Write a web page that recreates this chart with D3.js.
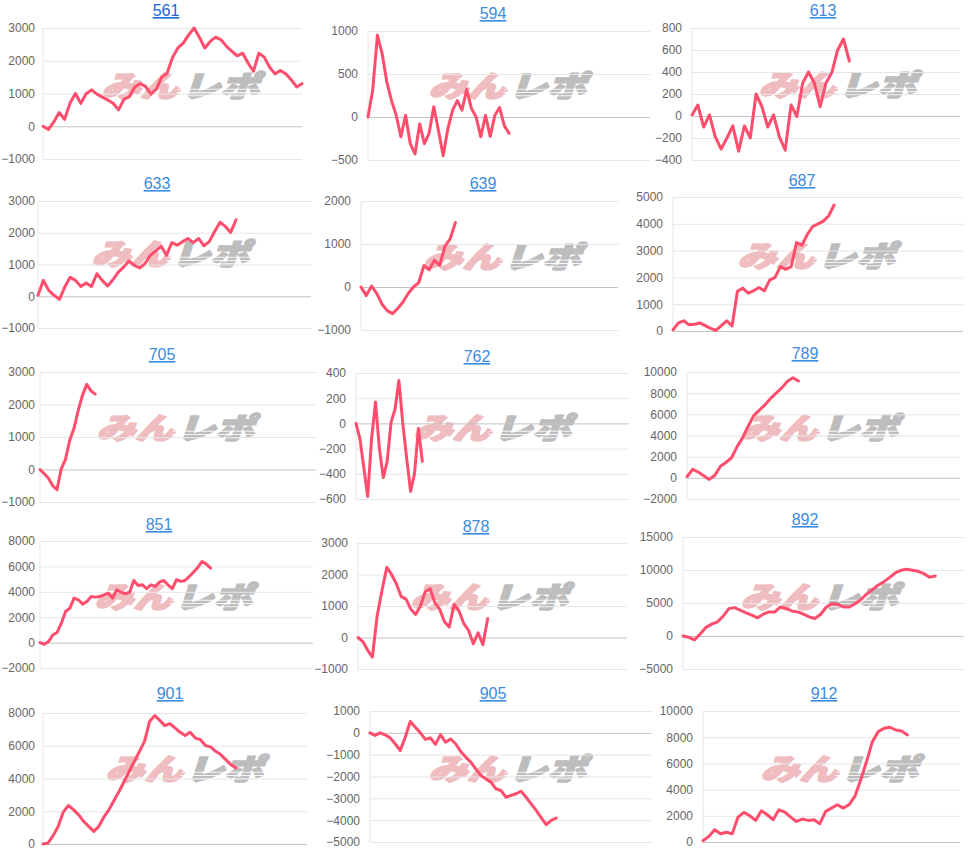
<!DOCTYPE html>
<html>
<head>
<meta charset="utf-8">
<script src="https://cdn.jsdelivr.net/npm/d3@7"></script>
<style>
  body { margin: 0; background: #fff; }
  svg { display: block; }
</style>
</head>
<body>
<div id="vis"></div>
<script>
// chart titles (machine numbers)
const titles = ["561","594","613","633","639","687","705","762","789","851","878","892","901","905","912"];

// number of x slots on each chart (data may stop before the end)
const slots = [49, 61, 47, 52, 50, 55, 66, 71, 50, 65, 57, 50, 53, 57, 45];

// y axis [min, max, step]
const yRanges = [
  [-1000, 3000, 1000], [-500, 1000, 500], [-400, 800, 200],
  [-1000, 3000, 1000], [-1000, 2000, 1000], [0, 5000, 1000],
  [-1000, 3000, 1000], [-600, 400, 200], [-2000, 10000, 2000],
  [-2000, 8000, 2000], [-1000, 3000, 1000], [-5000, 15000, 5000],
  [0, 8000, 2000], [-5000, 1000, 1000], [0, 10000, 2000]
];

// difference values
const s561 = [0,-100,130,420,210,700,1000,700,990,1110,980,890,800,700,500,820,900,1200,1300,1220,980,1130,1500,1620,2100,2390,2540,2790,3000,2710,2390,2590,2720,2640,2440,2290,2150,2230,1930,1680,2230,2110,1800,1600,1700,1600,1420,1200,1300];
const s594 = [0,310,950,740,410,190,20,-230,20,-310,-430,-80,-310,-190,120,-160,-450,-135,80,190,80,320,100,0,-230,20,-225,20,110,-100,-190];
const s613 = [10,100,-100,10,-190,-300,-200,-90,-320,-90,-200,200,85,-100,10,-190,-310,100,-5,300,400,300,85,300,395,600,700,500];
const s633 = [30,500,190,30,-100,290,600,500,310,420,310,710,500,320,520,760,920,1110,970,890,1030,1290,1430,1580,1290,1690,1610,1720,1820,1690,1820,1590,1720,2040,2330,2200,2010,2410];
const s639 = [0,-200,20,-150,-400,-550,-620,-500,-350,-150,0,100,500,400,620,500,950,1120,1500];
const s687 = [40,300,380,230,250,300,200,100,20,200,380,190,1480,1600,1410,1500,1620,1500,1900,2000,2400,2300,2400,3300,3200,3600,3900,4000,4100,4300,4700];
const s705 = [0,-130,-270,-500,-620,20,310,900,1260,1820,2280,2620,2420,2320];
const s762 = [0,-120,-350,-580,-120,170,-200,-430,-300,10,110,340,0,-280,-540,-400,-40,-300];
const s789 = [100,800,550,200,-150,250,1100,1450,1900,2950,3800,4900,5900,6400,6900,7500,8000,8500,9100,9450,9150];
const s851 = [0,-130,80,600,790,1530,2450,2710,3500,3370,3030,3240,3630,3580,3630,3760,3900,3500,4160,3970,3840,3970,4890,4500,4550,4240,4550,4420,4760,4890,4550,4240,4950,4820,4890,5210,5550,5920,6390,6180,5870];
const s878 = [0,-130,-400,-620,700,1500,2230,2000,1700,1300,1220,900,730,1000,1450,1550,1100,900,500,330,1050,850,450,230,-200,150,-230,600];
const s892 = [0,-200,-600,300,1300,1800,2150,3000,4150,4300,3900,3500,3150,2750,3300,3650,3650,4400,4150,3800,3650,3300,2900,2650,3300,4400,4900,4800,4400,4400,4900,5500,6350,7000,7700,8200,8850,9550,9950,10100,9950,9800,9450,8900,9100];
const s901 = [0,60,510,1080,1960,2350,2100,1790,1380,1080,770,1080,1650,2100,2670,3220,3830,4440,5050,5660,6270,7490,7840,7550,7230,7350,7090,6820,6620,6820,6470,6370,6010,5930,5660,5460,5150,4850,4640];
const s905 = [0,-120,0,-90,-230,-500,-810,-200,520,260,0,-300,-230,-530,-80,-430,-280,-500,-850,-1110,-1340,-1650,-1950,-2100,-2260,-2560,-2640,-2950,-2870,-2790,-2680,-2950,-3250,-3550,-3890,-4200,-4010,-3900];
const s912 = [100,430,940,630,740,630,1900,2260,2000,1650,2380,2080,1700,2460,2280,1900,1570,1750,1650,1700,1400,2340,2590,2840,2590,2840,3480,4750,6140,7660,8430,8680,8760,8550,8480,8170];

const series = [s561,s594,s613,s633,s639,s687,s705,s762,s789,s851,s878,s892,s901,s905,s912];

// plot boxes: [left, top, right, bottom], title centre, watermark centre
const boxes = [
  [43,28,302,159], [368,31,650,160], [692,28,960,160],
  [38,201,311,328], [361,201,618,330], [673,197,963,331],
  [40,372,316,502], [356,373,629,499], [687,372,960,499],
  [40,541,313,668], [358,543,627,669], [683,537,964,669],
  [43,713,307,844], [370,711,652,842], [703,711,960,842]
];
const titlePos = [[166,10],[493,13],[823,10],[157,183],[483,183],[802,180],[162,354],[477,356],[805,353],[159,524],[476,526],[805,519],[170,693],[493,693],[824,693]];
const markPos = [[183,86],[510,86],[840,85],[173,254],[505,257],[819,256],[178,428],[495,428],[822,428],[176,597],[492,597],[822,597],[187,769],[510,769],[842,769]];

const width = 971, height = 854;
const svg = d3.select("#vis").append("svg")
  .attr("width", width)
  .attr("height", height);

const font = "'Liberation Sans', Arial, Helvetica, sans-serif";

titles.forEach((t, i) => {
  const [l, top, r, b] = boxes[i];
  const [yMin, yMax, yStep] = yRanges[i];
  const g = svg.append("g");

  // watermark behind the chart
  const [mx, my] = markPos[i];
  const wm = g.append("g").attr("transform", `translate(${mx},${my}) scale(1.08,0.82) skewX(-14)`);
  wm.append("text")
    .attr("x", 0).attr("y", 14)
    .attr("text-anchor", "end")
    .style("font-family", "'Noto Sans CJK JP', sans-serif")
    .style("font-weight", 900)
    .style("font-size", "36px")
    .attr("fill", "#efbcc0")
    .attr("stroke", "#efbcc0")
    .attr("stroke-width", 2.2)
    .attr("stroke-linejoin", "round")
    .text("みん");
  wm.append("text")
    .attr("x", 2).attr("y", 14)
    .attr("text-anchor", "start")
    .style("font-family", "'Noto Sans CJK JP', sans-serif")
    .style("font-weight", 900)
    .style("font-size", "36px")
    .attr("fill", "#bdbdbd")
    .attr("stroke", "#bdbdbd")
    .attr("stroke-width", 2.2)
    .attr("stroke-linejoin", "round")
    .text("レポ");
  [4, 8, 12].forEach(dy => {
    wm.append("line")
      .attr("x1", -4).attr("x2", 82).attr("y1", dy).attr("y2", dy)
      .attr("stroke", "rgba(255,255,255,0.85)").attr("stroke-width", 1.3);
  });

  const x = d3.scaleLinear().domain([0, slots[i] - 1]).range([l, r]);
  const y = d3.scaleLinear().domain([yMin, yMax]).range([b, top]);
  const ticks = d3.range(yMin, yMax + yStep / 2, yStep);

  // grid + labels
  const axis = g.append("g")
    .attr("transform", `translate(${l},0)`)
    .call(d3.axisLeft(y).tickValues(ticks).tickSize(-(r - l))
      .tickPadding(Math.min(10, l - 35)).tickFormat(d3.format("d")));
  axis.select(".domain").remove();
  axis.selectAll(".tick line")
    .attr("stroke", d => d === 0 ? "#c4c4c4" : "#e6e6e6")
    .attr("stroke-width", 1);
  axis.selectAll(".tick text")
    .attr("fill", "#666")
    .style("font-family", font)
    .style("font-size", "12px");

  // vertical axis line
  g.append("line")
    .attr("x1", l).attr("x2", l).attr("y1", top).attr("y2", b)
    .attr("stroke", "#e6e6e6");

  // the line
  const line = d3.line()
    .x((d, k) => x(k))
    .y(d => y(d))
    .curve(d3.curveLinear);
  g.append("path")
    .datum(series[i])
    .attr("d", line)
    .attr("fill", "none")
    .attr("stroke", "#ff4d6d")
    .attr("stroke-width", 3)
    .attr("stroke-linejoin", "round")
    .attr("stroke-linecap", "round");

  // title link
  const [tx, ty] = titlePos[i];
  g.append("text")
    .attr("x", tx).attr("y", ty + 6)
    .attr("text-anchor", "middle")
    .attr("fill", i === 0 ? "#1a66d6" : "#3b8be0")
    .style("font-family", font)
    .style("font-size", "16px")
    .style("text-decoration", "underline")
    .text(t);
});
</script>
</body>
</html>
